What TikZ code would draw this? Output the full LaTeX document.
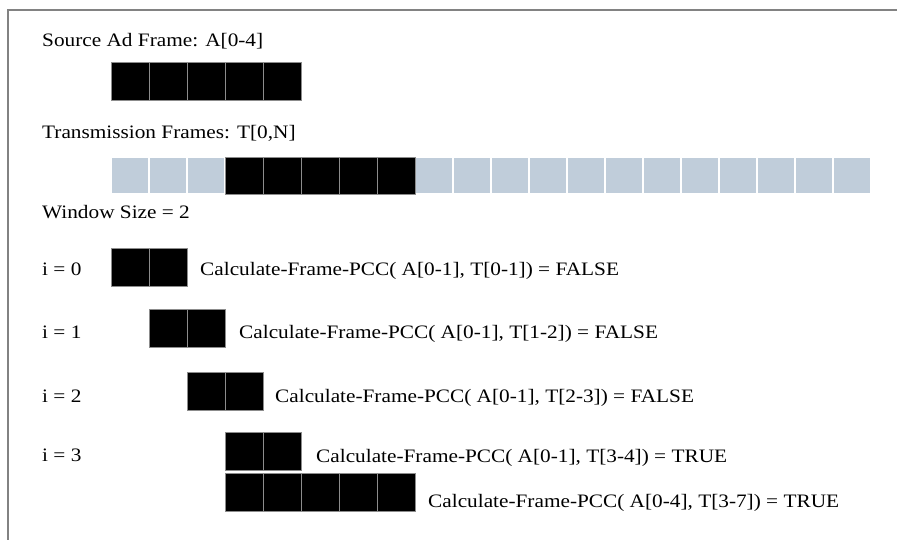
\documentclass[tikz,border=0pt]{standalone}
\usepackage{fontspec}
\setmainfont[FakeStretch=1.12]{Liberation Serif}
\definecolor{cellblue}{RGB}{192,205,218}
\definecolor{framegray}{RGB}{130,130,130}
\begin{document}
\begin{tikzpicture}[x=1pt,y=-1pt,
  lbl/.style={anchor=base west,inner sep=0pt,font=\fontsize{19}{21}\selectfont},
  blk/.style={fill=black,draw=black!45,line width=0.8pt},
  blu/.style={fill=cellblue,draw=white,line width=1.2pt}]
\useasboundingbox (0,0) rectangle (897,540);
\fill[white] (0,0) rectangle (897,540);
% frame
\draw[framegray,line width=1.5pt] (8,540) -- (8,10) -- (897,10);
% source frame
\foreach \k in {0,...,4} \draw[blk] (111+\k*38,62) rectangle ++(38,38);
\node[lbl] (src) at (42,47) {Source Ad Frame: A[0-4]};
% transmission
\node[lbl] (trans) at (42,139) {Transmission Frames: T[0,N]};
\foreach \k in {0,...,19} \draw[blu] (111+\k*38,157) rectangle ++(38,37);
\foreach \k in {3,...,7} \draw[blk] (111+\k*38,157) rectangle ++(38,37);
\node[lbl] (win) at (42,219) {Window Size = 2};
% windows
\node[lbl] (i0) at (42,276) {i = 0};
\foreach \k in {0,1} \draw[blk] (111+\k*38,248) rectangle ++(38,38);
\node[lbl] (c0) at (200,276) {Calculate-Frame-PCC( A[0-1], T[0-1]) = FALSE};
\node[lbl] (i1) at (42,338) {i = 1};
\foreach \k in {1,2} \draw[blk] (111+\k*38,309) rectangle ++(38,38);
\node[lbl] (c1) at (239,338) {Calculate-Frame-PCC( A[0-1], T[1-2]) = FALSE};
\node[lbl] (i2) at (42,402) {i = 2};
\foreach \k in {2,3} \draw[blk] (111+\k*38,372) rectangle ++(38,38);
\node[lbl] (c2) at (275,402) {Calculate-Frame-PCC( A[0-1], T[2-3]) = FALSE};
\node[lbl] (i3) at (42,461) {i = 3};
\foreach \k in {3,4} \draw[blk] (111+\k*38,432) rectangle ++(38,38);
\node[lbl] (c3) at (316,462) {Calculate-Frame-PCC( A[0-1], T[3-4]) = TRUE};
\foreach \k in {3,...,7} \draw[blk] (111+\k*38,473) rectangle ++(38,38);
\node[lbl] (c4) at (428,507) {Calculate-Frame-PCC( A[0-4], T[3-7]) = TRUE};
\end{tikzpicture}
\end{document}
